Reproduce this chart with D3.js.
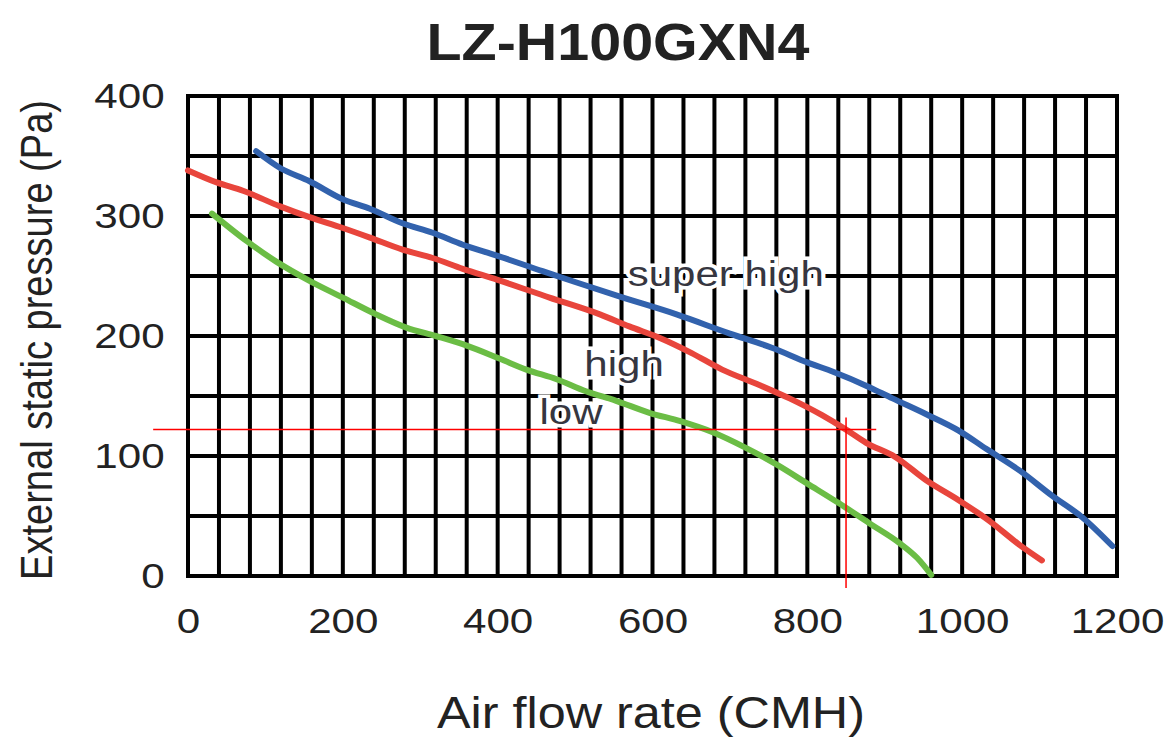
<!DOCTYPE html>
<html>
<head>
<meta charset="utf-8">
<script src="https://cdn.jsdelivr.net/npm/d3@7"></script>
<style>
  body { margin: 0; background: #fff; }
  svg { display: block; font-family: "Liberation Sans", Arial, Helvetica, sans-serif; }
</style>
</head>
<body>
<div id="chart"></div>
<script>
// air flow (CMH) / external static pressure (Pa) pairs
const superHighFlow = [88, 119, 157, 200, 235, 277, 316, 355, 399, 458, 500, 562, 631, 700, 755, 800, 834, 878, 910, 953, 996, 1031, 1074, 1116, 1155, 1194];
const superHighPa   = [354, 340, 329, 314, 306, 294, 286, 276, 267, 254, 245, 232, 218, 202, 190, 178, 170, 158, 148, 135, 121, 106, 88, 67, 49, 25];

const highFlow = [0, 37, 71, 119, 157, 200, 235, 277, 316, 355, 399, 467, 532, 570, 611, 650, 690, 735, 777, 819, 850, 876, 914, 953, 996, 1035, 1074, 1103];
const highPa   = [338, 328, 321, 308, 299, 290, 282, 272, 265, 256, 247, 232, 218, 208, 198, 186, 172, 160, 148, 134, 122, 111, 99, 80, 63, 46, 26, 13];

const lowFlow = [31, 76, 114, 157, 200, 243, 282, 320, 360, 403, 437, 476, 514, 553, 596, 636, 677, 720, 760, 800, 840, 880, 920, 942, 960];
const lowPa   = [302, 279, 262, 246, 232, 218, 207, 200, 192, 181, 172, 164, 154, 146, 136, 129, 120, 107, 93, 77, 61, 44, 27, 15, 1];

const seriesNames = ["super high", "high", "low"];
const seriesColors = ["#3262ad", "#e8453c", "#6bbd45"];
// where each curve name sits (flow, pressure of text baseline start)
const labelFlow = [568, 512, 454];
const labelPa = [242, 167, 127];

const xTicks = [0, 200, 400, 600, 800, 1000, 1200];
const yTicks = [0, 100, 200, 300, 400];
const xGridStep = 40;
const yGridStep = 50;

// red reading lines drawn over the chart
const markFlow = 850;
const markPa = 122;
const markFlowRange = [-45, 889];
const markPaRange = [-10, 132];

const width = 1173, height = 742;
const margin = { top: 96, right: 56, bottom: 166, left: 188 };

const svg = d3.select("#chart").append("svg")
    .attr("width", width)
    .attr("height", height);

svg.append("rect").attr("width", width).attr("height", height).attr("fill", "#fff");

const x = d3.scaleLinear().domain([0, 1200]).range([margin.left, width - margin.right]);
const y = d3.scaleLinear().domain([0, 400]).range([height - margin.bottom, margin.top]);

// grid
const grid = svg.append("g").attr("stroke", "#000").attr("stroke-width", 4);
grid.selectAll(".vline")
    .data(d3.range(0, 1200 + 1, xGridStep))
    .enter().append("line")
    .attr("x1", d => x(d)).attr("x2", d => x(d))
    .attr("y1", y(0) + 2).attr("y2", y(400) - 2);
grid.selectAll(".hline")
    .data(d3.range(0, 400 + 1, yGridStep))
    .enter().append("line")
    .attr("x1", x(0) - 2).attr("x2", x(1200) + 2)
    .attr("y1", d => y(d)).attr("y2", d => y(d));

// axes (labels only)
const xAxis = svg.append("g")
    .attr("transform", `translate(0,${y(0)})`)
    .call(d3.axisBottom(x).tickValues(xTicks).tickFormat(d3.format("d")).tickSize(0).tickPadding(31));
xAxis.select(".domain").remove();
xAxis.selectAll("text")
    .attr("font-size", 36)
    .attr("fill", "#222")
    .attr("transform", "scale(1.17,1)");

const yAxis = svg.append("g")
    .attr("transform", `translate(${x(0)},0)`)
    .call(d3.axisLeft(y).tickValues(yTicks).tickFormat(d3.format("d")).tickSize(0).tickPadding(20));
yAxis.select(".domain").remove();
yAxis.selectAll("text")
    .attr("font-size", 36)
    .attr("fill", "#222")
    .attr("transform", "scale(1.17,1)");
svg.selectAll(".tick text").attr("font-family", "Liberation Sans, Arial, sans-serif");

// curves
const line = d3.line()
    .x(d => x(d[0]))
    .y(d => y(d[1]))
    .curve(d3.curveMonotoneX);

const seriesData = [
    d3.zip(superHighFlow, superHighPa),
    d3.zip(highFlow, highPa),
    d3.zip(lowFlow, lowPa)
];

svg.selectAll(".curve")
    .data(seriesData)
    .enter().append("path")
    .attr("class", "curve")
    .attr("d", line)
    .attr("fill", "none")
    .attr("stroke", (d, i) => seriesColors[i])
    .attr("stroke-width", 6)
    .attr("stroke-linecap", "round")
    .attr("stroke-linejoin", "round");

// curve names with a white halo over the grid
svg.selectAll(".series-label")
    .data(seriesNames)
    .enter().append("text")
    .attr("class", "series-label")
    .attr("transform", (d, i) => `translate(${x(labelFlow[i])},${y(labelPa[i])}) scale(1.2,1)`)
    .attr("font-size", 35)
    .attr("fill", "#363640")
    .attr("stroke", "#fff")
    .attr("stroke-width", 7)
    .attr("paint-order", "stroke")
    .text(d => d);

// red reading lines
svg.append("line")
    .attr("x1", x(markFlowRange[0])).attr("x2", x(markFlowRange[1]))
    .attr("y1", y(markPa)).attr("y2", y(markPa))
    .attr("stroke", "#ff0000").attr("stroke-width", 1.5);
svg.append("line")
    .attr("x1", x(markFlow)).attr("x2", x(markFlow))
    .attr("y1", y(markPaRange[1])).attr("y2", y(markPaRange[0]))
    .attr("stroke", "#ff0000").attr("stroke-width", 1.5);

// title and axis titles
svg.append("text")
    .attr("x", 618).attr("y", 60)
    .attr("text-anchor", "middle")
    .attr("font-size", 51)
    .attr("font-weight", "bold")
    .attr("fill", "#222")
    .attr("textLength", 383)
    .attr("lengthAdjust", "spacingAndGlyphs")
    .text("LZ-H100GXN4");

svg.append("text")
    .attr("x", 651).attr("y", 728)
    .attr("text-anchor", "middle")
    .attr("font-size", 44)
    .attr("fill", "#222")
    .attr("textLength", 428)
    .attr("lengthAdjust", "spacingAndGlyphs")
    .text("Air flow rate (CMH)");

svg.append("text")
    .attr("transform", "translate(52,340) scale(1.25,1) rotate(-90)")
    .attr("text-anchor", "middle")
    .attr("font-size", 36)
    .attr("fill", "#222")
    .attr("textLength", 480)
    .attr("lengthAdjust", "spacingAndGlyphs")
    .text("External static pressure (Pa)");
</script>
</body>
</html>
